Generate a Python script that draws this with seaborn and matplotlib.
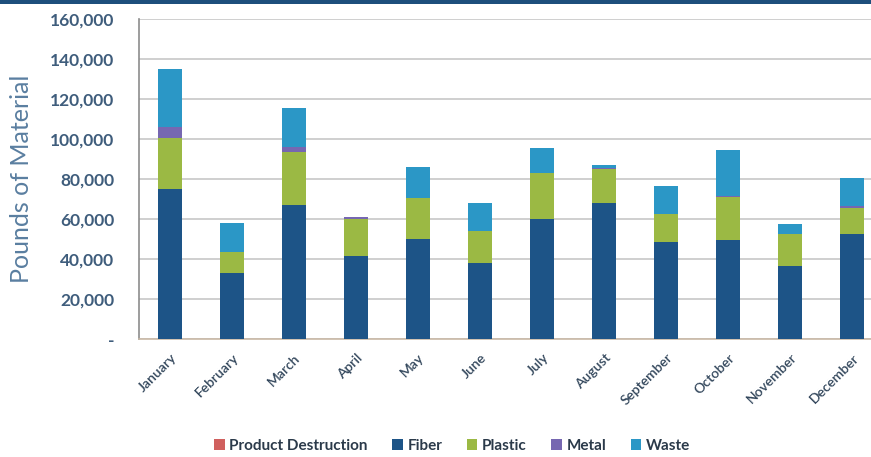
import numpy as np
import pandas as pd
import matplotlib
matplotlib.use("Agg")
import matplotlib.pyplot as plt
import seaborn as sns
from matplotlib.patches import Patch, Rectangle
from matplotlib.ticker import FuncFormatter, FixedLocator

months = ["January", "February", "March", "April", "May", "June", "July",
          "August", "September", "October", "November", "December"]
product_destruction = [0, 0, 0, 0, 0, 0, 0, 0, 0, 0, 0, 0]
fiber = [75200, 33200, 67000, 41500, 49800, 37800, 59800, 67800, 48300, 49500, 36700, 52300]
plastic = [25100, 10500, 26700, 18500, 20900, 16300, 23000, 17200, 14000, 21300, 15600, 13000]
metal = [5500, 0, 2500, 1000, 0, 0, 0, 500, 0, 900, 0, 1400]
waste = [29200, 14100, 19100, 0, 15100, 13700, 12900, 1500, 14200, 22800, 5000, 14000]
y_ticks = [0, 20000, 40000, 60000, 80000, 100000, 120000, 140000, 160000]

series = ["Product Destruction", "Fiber", "Plastic", "Metal", "Waste"]
colors = {"Product Destruction": "#d0605e", "Fiber": "#1d5487", "Plastic": "#9bb944",
          "Metal": "#7667b1", "Waste": "#2b97c6"}
values = {"Product Destruction": product_destruction, "Fiber": fiber,
          "Plastic": plastic, "Metal": metal, "Waste": waste}

sns.set_style("white")
plt.rcParams["font.family"] = ["Lato", "DejaVu Sans"]

fig = plt.figure(figsize=(8.71, 4.57), dpi=100)
ax = fig.add_axes([139 / 871, (457 - 339) / 457, 1 - 139 / 871, (339 - 19) / 457])

# cumulative stacks, drawn tallest first so each layer overlays the one above it
cum = np.zeros(len(months))
stacks = []
for s in series:
    cum = cum + np.array(values[s], dtype=float)
    stacks.append((s, cum.copy()))

for s, top in reversed(stacks):
    df = pd.DataFrame({"Month": months, "Pounds": top})
    sns.barplot(data=df, x="Month", y="Pounds", order=months, color=colors[s],
                width=0.39, saturation=1, linewidth=0, ax=ax, zorder=3)

ax.set_ylim(0, 160000)
ax.set_xlim(-0.5, 11.3)
ax.yaxis.set_major_locator(FixedLocator(y_ticks))
ax.yaxis.set_major_formatter(FuncFormatter(lambda v, p: "-" if v == 0 else f"{int(v):,}"))
ax.grid(axis="y", color="#cfcfcf", linewidth=1.4, zorder=0)
ax.set_axisbelow(True)

for sp in ["top", "right"]:
    ax.spines[sp].set_visible(False)
ax.spines["left"].set_color("#8c8c8c")
ax.spines["left"].set_linewidth(1.2)
ax.spines["bottom"].set_color("#c9b9a6")
ax.spines["bottom"].set_linewidth(1.2)

ax.tick_params(axis="y", labelsize=12.5, colors="#cccccc", length=4, width=1,
               labelcolor="#3f5d7c", pad=14)
for lab in ax.get_yticklabels():
    lab.set_fontweight("bold")
ax.set_xticks(range(len(months)))
ax.set_xticklabels(months, rotation=45, ha="right", rotation_mode="anchor",
                   fontsize=10, color="#33475c", fontweight="semibold")
ax.tick_params(axis="x", length=0, pad=9)
ax.set_xticks(np.arange(-0.5, 11.5, 1), minor=True)
ax.tick_params(axis="x", which="minor", length=4, color="#aaaaaa", width=1)

ax.set_xlabel("")
ax.set_ylabel("Pounds of Material", fontsize=18, color="#5a7ea0")
ax.yaxis.set_label_coords(-0.145, 0.5)

handles = [Patch(facecolor=colors[s], edgecolor="none", label=s) for s in series]
leg = fig.legend(handles=handles, loc="center", bbox_to_anchor=(452 / 871, 1 - 446 / 457),
                 ncol=5, frameon=False, fontsize=11, handlelength=0.7, handleheight=0.7,
                 handletextpad=0.3, columnspacing=1.6)
for t in leg.get_texts():
    t.set_fontweight("bold")
    t.set_color("#2b3a4a")

fig.patches.append(Rectangle((0, 1 - 4 / 457), 1, 4 / 457, transform=fig.transFigure,
                             facecolor="#1d4f7c", edgecolor="none"))

fig.savefig("out.png", dpi=100)
